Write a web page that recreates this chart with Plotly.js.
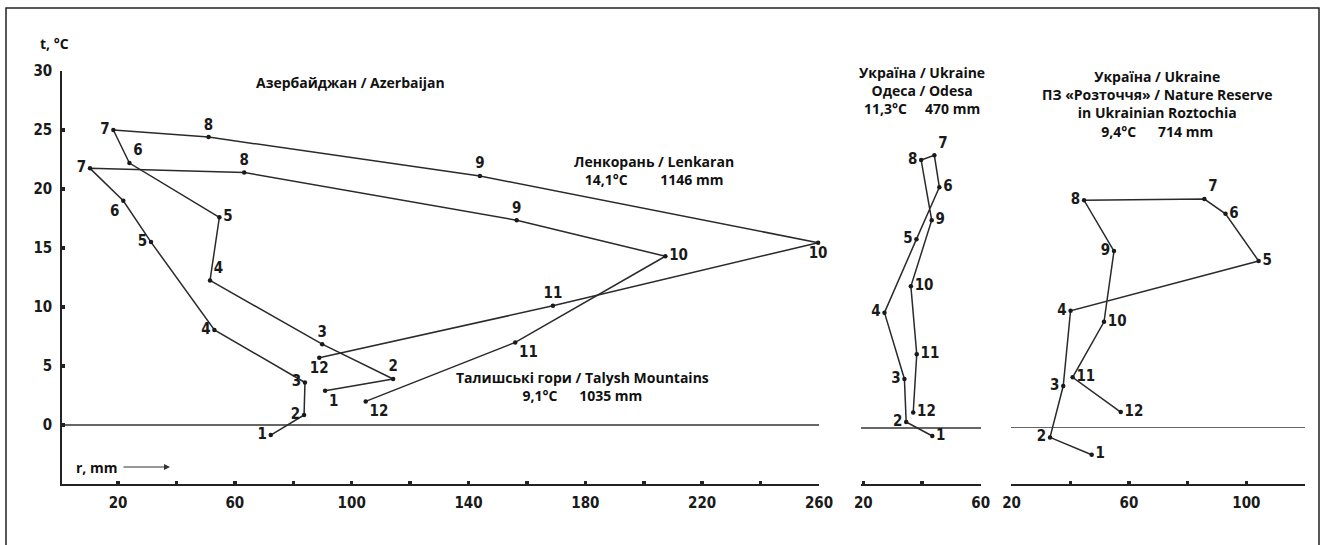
<!DOCTYPE html>
<html>
<head>
<meta charset="utf-8">
<script src="https://cdn.plot.ly/plotly-3.0.1.min.js"></script>
<style>html,body{margin:0;padding:0;background:#fff}#chart{width:1325px;height:545px}</style>
</head>
<body>
<div id="chart"></div>
<script>
// ---- data ----
const months = ["1","2","3","4","5","6","7","8","9","10","11","12"];

// Azerbaijan: Lenkaran (14,1°C, 1146 mm)
const lenkaranR = [90.9, 114.2, 89.9, 51.5, 54.7, 23.9, 18.4, 51.0, 143.9, 259.7, 168.9, 88.9];
const lenkaranT = [2.9, 3.9, 6.85, 12.25, 17.6, 22.2, 25.0, 24.4, 21.1, 15.45, 10.1, 5.7];

// Azerbaijan: Talysh Mountains (9,1°C, 1035 mm)
const talyshR = [72.3, 83.7, 84.0, 53.0, 31.3, 21.8, 10.4, 63.2, 156.5, 207.4, 156.0, 104.8];
const talyshT = [-0.85, 0.85, 3.6, 8.05, 15.5, 19.0, 21.75, 21.4, 17.35, 14.3, 7.0, 2.0];

// Ukraine: Odesa (11,3°C, 470 mm)
const odesaR = [43.5, 34.6, 34.0, 27.2, 38.1, 45.9, 44.2, 39.7, 43.3, 36.2, 38.2, 37.0];
const odesaT = [-0.68, 0.51, 4.15, 9.77, 16.0, 20.4, 23.1, 22.7, 17.6, 12.0, 6.25, 1.3];

// Ukraine: Nature Reserve "Roztochia" (9,4°C, 714 mm)
const roztR = [47.3, 33.1, 37.6, 40.1, 104.2, 92.9, 85.7, 44.7, 54.9, 51.5, 40.8, 57.2];
const roztT = [-2.32, -0.85, 3.5, 9.88, 14.1, 18.1, 19.35, 19.24, 14.94, 8.95, 4.24, 1.3];

// tick values / labels
const mainXTicks = [20, 40, 60, 80, 100, 120, 140, 160, 180, 200, 220, 240, 260];
const mainXLabels = ["20", "", "60", "", "100", "", "140", "", "180", "", "220", "", "260"];
const mainYTicks = [0, 5, 10, 15, 20, 25, 30];
const mainYLabels = ["0", "5", "10", "15", "20", "25", "30"];
const odesaXTicks = [20, 40, 60];
const odesaXLabels = ["20", "", "60"];
const roztXTicks = [20, 40, 60, 80, 100, 120];
const roztXLabels = ["20", "", "60", "", "100", ""];

// ---- styling ----
const W = 1325, H = 545;
const fx = p => p / W;
const fy = p => 1 - p / H;

const numFont = {family: "DejaVu Sans Condensed, DejaVu Sans", size: 15, color: "#1a1a1a", weight: "bold"};
const titleFont = {family: "Open Sans", size: 14, color: "#111", weight: "bold"};

const lenkaranPos = ["bottom right","top center","top center","top right","middle right","top right","middle left","top center","top center","bottom center","top center","bottom center"];
const talyshPos = ["middle left","middle left","middle left","middle left","middle left","bottom left","middle left","top center","top center","middle right","bottom right","bottom right"];
const odesaPos = ["middle right","middle left","middle left","middle left","middle left","middle right","top right","middle left","middle right","middle right","middle right","middle right"];
const roztPos = ["middle right","middle left","middle left","middle left","middle right","middle right","top right","middle left","middle left","middle right","middle right","middle right"];

function series(r, t, pos, xa, ya) {
  return {
    type: "scatter", mode: "lines+markers+text",
    x: r, y: t, text: months, textposition: pos, textfont: numFont,
    line: {color: "#2a2a2a", width: 1.5},
    marker: {color: "#1a1a1a", size: 4.5},
    xaxis: xa, yaxis: ya, cliponaxis: false, hoverinfo: "x+y", showlegend: false
  };
}

const data = [
  series(lenkaranR, lenkaranT, lenkaranPos, "x", "y"),
  series(talyshR, talyshT, talyshPos, "x", "y"),
  series(odesaR, odesaT, odesaPos, "x2", "y2"),
  series(roztR, roztT, roztPos, "x3", "y3")
];

const yDomain = [fy(484), fy(71)];
const xBase = {
  showline: true, linecolor: "#222", linewidth: 1.8,
  showgrid: false, zeroline: false,
  ticks: "inside", ticklen: 3, tickwidth: 3.5, tickcolor: "#222",
  tickmode: "array", tickfont: numFont, ticklabelstandoff: 4
};
const yHidden = {
  domain: yDomain, showgrid: false, showline: false, showticklabels: false, ticks: "",
  zeroline: true, zerolinecolor: "#666", zerolinewidth: 1.1
};

const layout = {
  width: W, height: H,
  margin: {l: 0, r: 0, t: 0, b: 0},
  paper_bgcolor: "#fff", plot_bgcolor: "rgba(0,0,0,0)",
  showlegend: false,
  xaxis: Object.assign({}, xBase, {
    domain: [fx(62), fx(819)], range: [0.82, 260],
    tickvals: mainXTicks, ticktext: mainXLabels, anchor: "y"
  }),
  yaxis: {
    domain: yDomain, range: [-5, 30], anchor: "x",
    showline: true, linecolor: "#222", linewidth: 1.8, showgrid: false,
    zeroline: true, zerolinecolor: "#666", zerolinewidth: 1.1,
    ticks: "inside", ticklen: 3, tickwidth: 3.5, tickcolor: "#222",
    tickmode: "array", tickvals: mainYTicks, ticktext: mainYLabels,
    tickfont: numFont, ticklabelstandoff: 5
  },
  xaxis2: Object.assign({}, xBase, {
    domain: [fx(861), fx(981)], range: [19.2, 60.1],
    tickvals: odesaXTicks, ticktext: odesaXLabels, anchor: "y2"
  }),
  yaxis2: Object.assign({}, yHidden, {range: [-4.75, 30.25], anchor: "x2"}),
  xaxis3: Object.assign({}, xBase, {
    domain: [fx(1011), fx(1305)], range: [19.8, 120],
    tickvals: roztXTicks, ticktext: roztXLabels, anchor: "y3"
  }),
  yaxis3: Object.assign({}, yHidden, {range: [-4.8, 30.2], anchor: "x3"}),
  shapes: [
    {type: "rect", xref: "paper", yref: "paper", x0: fx(6), x1: fx(1319), y0: -0.2, y1: fy(8),
     line: {color: "#222", width: 1.5}, fillcolor: "rgba(0,0,0,0)", layer: "below"}
  ],
  annotations: [
    {xref: "paper", yref: "paper", x: fx(38), y: fy(43), xanchor: "left", yanchor: "middle",
     text: "t, °C", showarrow: false, font: titleFont},
    {xref: "paper", yref: "paper", x: fx(74), y: fy(467), xanchor: "left", yanchor: "middle",
     text: "r, mm", showarrow: false, font: titleFont},
    {xref: "paper", yref: "paper", x: fx(170), y: fy(467), ax: -48, ay: 0, text: "",
     showarrow: true, arrowhead: 2, arrowsize: 1, arrowwidth: 1.2, arrowcolor: "#333"},
    {xref: "paper", yref: "paper", x: fx(350), y: fy(82), xanchor: "center", yanchor: "middle",
     text: "Азербайджан / Azerbaijan", showarrow: false, font: titleFont},
    {xref: "paper", yref: "paper", x: fx(654), y: fy(170), xanchor: "center", yanchor: "middle",
     text: "Ленкорань / Lenkaran<br>14,1°C         1146 mm", showarrow: false, font: titleFont, align: "center"},
    {xref: "paper", yref: "paper", x: fx(582), y: fy(386), xanchor: "center", yanchor: "middle",
     text: "Талишські гори / Talysh Mountains<br>9,1°C      1035 mm", showarrow: false, font: titleFont, align: "center"},
    {xref: "paper", yref: "paper", x: fx(922), y: fy(90), xanchor: "center", yanchor: "middle",
     text: "Україна / Ukraine<br>Одеса / Odesa<br>11,3°C     470 mm", showarrow: false, font: titleFont, align: "center"},
    {xref: "paper", yref: "paper", x: fx(1157), y: fy(104), xanchor: "center", yanchor: "middle",
     text: "Україна / Ukraine<br>ПЗ «Розточчя» / Nature Reserve<br>in Ukrainian Roztochia<br>9,4°C      714 mm",
     showarrow: false, font: titleFont, align: "center"}
  ]
};

Plotly.newPlot("chart", data, layout, {staticPlot: true, displayModeBar: false});
</script>
</body>
</html>
